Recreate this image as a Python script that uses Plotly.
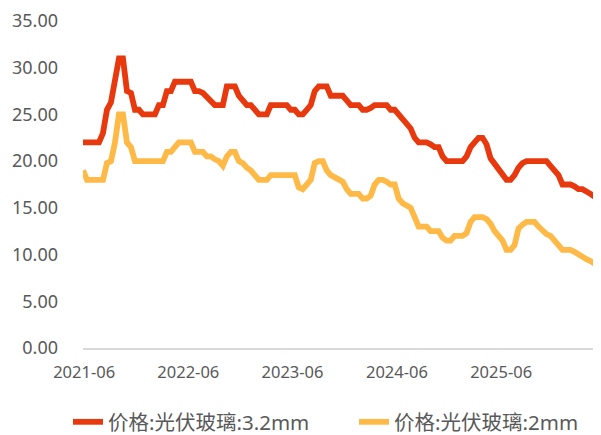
import pandas as pd
import plotly.graph_objects as go

# Biweekly observation dates
start_date = "2021-05-28"
n_points = 130
dates = pd.date_range(start_date, periods=n_points, freq="14D")

series_names = ["价格:光伏玻璃:3.2mm", "价格:光伏玻璃:2mm"]

glass_32mm = [
    22, 22, 22, 22, 22, 23, 25.5, 26.3, 29, 31,
    31, 27.5, 27.3, 25.5, 25.5, 25, 25, 25, 25, 26,
    26, 27.5, 27.5, 28.5, 28.5, 28.5, 28.5, 28.5, 27.5, 27.5,
    27.3, 26.8, 26.3, 26, 26, 26, 28, 28, 28, 27,
    26.5, 26, 26, 25.5, 25, 25, 25, 26, 26, 26,
    26, 26, 25.5, 25.5, 25, 25, 25.5, 26, 27.5, 28,
    28, 28, 27, 27, 27, 27, 26.5, 26, 26, 26,
    25.5, 25.5, 25.7, 26, 26, 26, 26, 25.5, 25.5, 25,
    24.5, 24, 23.5, 22.5, 22, 22, 22, 21.8, 21.5, 21.5,
    20.5, 20, 20, 20, 20, 20, 20.5, 21.5, 22, 22.5,
    22.5, 21.8, 20.3, 19.7, 19.3, 18.5, 18, 18, 18.5, 19.3,
    19.8, 20, 20, 20, 20, 20, 20, 19.5, 19, 18.5,
    17.5, 17.5, 17.5, 17.3, 17, 17, 16.8, 16.5, 16.2, 15.8,
]

glass_2mm = [
    19, 18, 18, 18, 18, 18, 19.8, 20, 22, 25,
    25, 22, 21.5, 20, 20, 20, 20, 20, 20, 20,
    20, 21, 21, 21.5, 22, 22, 22, 22, 21, 21,
    21, 20.5, 20.5, 20.2, 20, 19.5, 20.5, 21, 21, 20,
    19.8, 19.3, 19, 18.5, 18, 18, 18, 18.5, 18.5, 18.5,
    18.5, 18.5, 18.5, 18.5, 17.2, 17, 17.5, 18, 19.8, 20,
    20, 19, 18.5, 18.3, 18, 17.8, 17, 16.5, 16.5, 16.5,
    16, 16, 16.3, 17.5, 18, 18, 17.8, 17.5, 17.5, 16,
    15.5, 15.3, 15, 14, 13, 13, 13, 12.5, 12.5, 12.5,
    11.8, 11.5, 11.5, 12, 12, 12, 12.3, 13.5, 14, 14,
    14, 13.8, 13.3, 12.5, 12, 11.5, 10.5, 10.5, 11, 12.8,
    13.2, 13.5, 13.5, 13.5, 13, 12.5, 12.2, 12, 11.5, 11,
    10.5, 10.5, 10.5, 10.3, 10, 9.8, 9.5, 9.3, 9, 8.8,
]

x_tick_dates = ["2021-06-01", "2022-06-01", "2023-06-01", "2024-06-01", "2025-06-01"]
x_tick_labels = ["2021-06", "2022-06", "2023-06", "2024-06", "2025-06"]
y_tick_values = [0, 5, 10, 15, 20, 25, 30, 35]
y_tick_labels = ["0.00", "5.00", "10.00", "15.00", "20.00", "25.00", "30.00", "35.00"]

colors = ["#E8390E", "#FFB947"]
text_gray = "#595959"
font_family = "Noto Sans, Noto Sans CJK SC, sans-serif"

fig = go.Figure()
for name, vals, col, leg in zip(series_names, [glass_32mm, glass_2mm], colors,
                                ["legend", "legend2"]):
    fig.add_trace(go.Scatter(
        x=dates, y=vals, mode="lines", name=name, legend=leg,
        line=dict(color=col, width=5.8, shape="linear"),
    ))

legend_common = dict(
    orientation="h", xref="container", yref="container",
    xanchor="left", yanchor="middle", y=1 - 414 / 427,
    font=dict(size=20.5, color=text_gray, family=font_family),
    itemwidth=30, itemclick=False, bgcolor="rgba(0,0,0,0)",
)

# The page body has an 8px margin, so the figure is sized to fill the rest of the window
fig.update_layout(
    width=593, height=427,
    margin=dict(l=75, r=0, t=10, b=87),
    paper_bgcolor="white", plot_bgcolor="white",
    font=dict(family=font_family, color=text_gray),
    showlegend=True,
    legend=dict(legend_common, x=60 / 593),
    legend2=dict(legend_common, x=346 / 593),
    xaxis=dict(
        type="date",
        range=["2021-05-28", "2026-05-17"],
        tickmode="array", tickvals=x_tick_dates, ticktext=x_tick_labels,
        showgrid=False, zeroline=False,
        showline=True, linecolor="#D9D9D9", linewidth=2,
        ticks="", tickfont=dict(size=16.5, color=text_gray),
        ticklabelstandoff=8,
    ),
    yaxis=dict(
        range=[0, 35],
        tickmode="array", tickvals=y_tick_values, ticktext=y_tick_labels,
        showgrid=False, zeroline=False, showline=False,
        ticks="", tickfont=dict(size=18, color=text_gray),
        ticklabelstandoff=24, ticklabeloverflow="allow",
    ),
)

fig.write_html("out.html")
